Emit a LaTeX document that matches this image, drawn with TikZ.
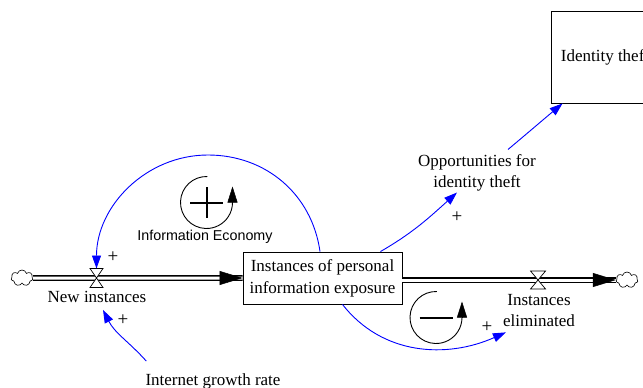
\documentclass[tikz,border=0pt]{standalone}
\usepackage{fontspec}
\setmainfont{Liberation Serif}
\setsansfont{Liberation Sans}
\usetikzlibrary{arrows.meta,shapes.symbols,calc}
\begin{document}
\begin{tikzpicture}[x=1pt,y=1pt,
  lbl/.style={font=\fontsize{17}{21}\selectfont, align=center, inner sep=0pt},
  stockbox/.style={draw, line width=0.9pt, minimum width=159pt, minimum height=52pt, inner sep=0pt, align=center, font=\fontsize{17}{22}\selectfont},
  link/.style={draw=blue, line width=0.9pt, -{Triangle[length=13pt,width=9pt,fill=blue]}},
  pipe/.style={line width=1.3pt, double=white, double distance=3pt},
  flowtip/.style={line width=0.5pt, -{Triangle[length=23pt,width=14pt]}},
  cloudnode/.style={cloud, cloud puffs=7, draw, line width=0.6pt, minimum width=22pt, minimum height=16pt, inner sep=0pt, cloud ignores aspect, fill=white},
  polarity/.style={font=\fontsize{19}{19}\selectfont, inner sep=0pt},
  valveshape/.style={fill=white, draw=black, line width=0.7pt},
  loopline/.style={line width=0.9pt},
  loopsign/.style={line width=2pt},
  looptip/.style={line width=0.5pt, -{Triangle[length=16pt,width=10pt]}}
]
\useasboundingbox (0,0) rectangle (643,-388);
\clip (0,0) rectangle (643,-388);

% stocks
\node[stockbox] (stock) at (322.5,-278) {Instances of personal\\information exposure};
\node[stockbox, minimum width=108pt, minimum height=92pt] (theft) at (605,-57) {Identity theft};

% clouds
\node[cloudnode] (cloudL) at (22,-278) {};
\node[cloudnode] (cloudR) at (627,-280) {};

% valves positions
\coordinate (valveIn) at (96.5,-278);
\coordinate (valveOut) at (538,-280);
\coordinate (outA) at ($(stock.east)+(0,-2)$);

% pipes
\draw[pipe] (cloudL.east) -- (stock.west);
\draw[flowtip] ($(stock.west)+(-23,0)$) -- (stock.west);
\draw[pipe] (outA) -- (outA -| cloudR.west);
\draw[flowtip] ($(outA -| cloudR.west)+(-23,0)$) -- (outA -| cloudR.west);

% valves
\path[valveshape] ($(valveIn)+(-6.5,9.5)$) -- ++(13,0) -- ++(-13,-19) -- ++(13,0) -- cycle;
\path[valveshape] ($(valveOut)+(-7.5,9)$) -- ++(15,0) -- ++(-15,-18) -- ++(15,0) -- cycle;

% labels
\node[lbl] (newinst) at (97,-297) {New instances};
\node[lbl] (elim) at (539,-311) {Instances\\eliminated};
\node[lbl] (opp) at (477,-173) {Opportunities for\\identity theft};
\node[lbl] (growth) at (213,-381) {Internet growth rate};
\node[font=\sffamily\fontsize{14.3}{17}\selectfont, inner sep=0pt] (ie) at (205,-237) {Information Economy};

% links
\coordinate (arcTop) at (208,-155);
\draw[link] ($(stock.north)+(-2.5,0)$) to[out=98,in=0] (arcTop) to[out=180,in=90] ($(valveIn)+(0,9.5)$);
\draw[link] ($(growth.north west)+(1,12)$) to[out=132,in=-63] ($(newinst.south)+(6,-7)$);
\draw[link] ($(stock.north east)+(-22,0)$) to[out=30,in=-138] ($(opp.south)+(-20,-1)$);
\draw[link] ($(opp.north)+(31,5)$) to[out=40,in=-140] ($(theft.south west)+(12,0)$);
\draw[link] ($(stock.south)+(20,0)$) to[out=-52,in=204] ($(elim.south west)+(3,-5)$);

% polarities
\node[polarity] (p1) at (113,-257) {+};
\node[polarity] (p2) at (123,-320) {+};
\node[polarity] (p3) at (457,-217) {+};
\node[polarity] (p4) at (487,-327) {+};

% loop R (positive)
\coordinate (loopR) at (206.5,-202.5);
\draw[loopline] ($(loopR)+(88:26)$) arc[start angle=88, end angle=360, radius=26];
\draw[looptip] ($(loopR)+(26,0)$) -- ($(loopR)+(26,16)$);
\draw[loopsign] ($(loopR)+(-16.5,0)$) -- ($(loopR)+(16.5,0)$);
\draw[loopsign] ($(loopR)+(0,15.5)$) -- ($(loopR)+(0,-15.5)$);

% loop B (negative)
\coordinate (loopB) at (436,-317.5);
\draw[loopline] ($(loopB)+(88:26)$) arc[start angle=88, end angle=360, radius=26];
\draw[looptip] ($(loopB)+(26,0)$) -- ($(loopB)+(26,16)$);
\draw[loopsign] ($(loopB)+(-16.5,0)$) -- ($(loopB)+(16.5,0)$);
\end{tikzpicture}
\end{document}
